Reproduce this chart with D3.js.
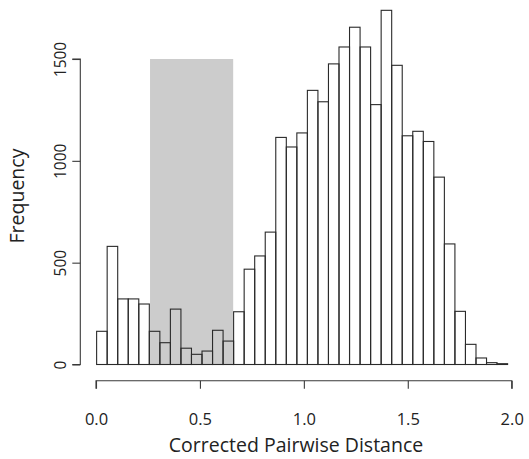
<!DOCTYPE html>
<html>
<head>
<meta charset="utf-8">
<script src="https://cdn.jsdelivr.net/npm/d3@7"></script>
<style>
  body { margin: 0; background: #fff; }
  text { font-family: "Open Sans", Lato, sans-serif; fill: #222; }
</style>
</head>
<body>
<div id="my_dataviz"></div>
<script>
// histogram counts, one per bin
var counts = [163, 580, 322, 322, 297, 163, 107, 272, 80, 50, 66, 168, 115,
              259, 468, 533, 650, 1115, 1068, 1137, 1346, 1290, 1476, 1559,
              1656, 1559, 1276, 1739, 1469, 1123, 1145, 1095, 920, 592, 261,
              99, 32, 9, 4];
var binStart = 0.003,
    binWidth = 0.0507;

// shaded window
var shadeRange = [0.26, 0.66],
    shadeTop = 1500;

// tick labels
var xTicks = [0, 0.5, 1, 1.5, 2];
var yTicks = [0, 500, 1000, 1500];

var width = 529, height = 459;

var svg = d3.select("#my_dataviz")
  .append("svg")
    .attr("width", width)
    .attr("height", height);

var x = d3.scaleLinear()
  .domain([0, 2])
  .range([96, 511.7]);

var y = d3.scaleLinear()
  .domain([0, 1500])
  .range([364.5, 59]);

// grey band behind the bars
svg.append("rect")
  .attr("x", x(shadeRange[0]))
  .attr("y", y(shadeTop))
  .attr("width", x(shadeRange[1]) - x(shadeRange[0]))
  .attr("height", y(0) - y(shadeTop))
  .style("fill", "#cccccc");

// bars, outline only
svg.append("g")
  .selectAll("rect")
  .data(counts)
  .enter()
  .append("rect")
    .attr("x", function(d, i) { return x(binStart + i * binWidth); })
    .attr("y", function(d) { return y(d); })
    .attr("width", function(d, i) { return x(binStart + (i + 1) * binWidth) - x(binStart + i * binWidth); })
    .attr("height", function(d) { return y(0) - y(d); })
    .style("fill", "none")
    .style("stroke", "#2a2a2a")
    .style("stroke-width", 1.1);

// X axis (R style, detached below the bars)
var xAxis = svg.append("g")
  .attr("transform", "translate(0,380.7)")
  .call(d3.axisBottom(x).tickValues(xTicks).tickFormat(d3.format(".1f")).tickSize(8));
xAxis.select(".domain").attr("d", "M" + x(0) + ",8V0H" + x(2) + "V8");
xAxis.selectAll("line, path").style("stroke", "#3a3a3a").style("stroke-width", 1.1);
xAxis.selectAll("text")
  .attr("y", 44).attr("dy", null)
  .style("font-size", "16.5px")
  .style("font-family", "'Open Sans', sans-serif")
  .style("fill", "#222");

svg.append("text")
  .attr("x", 296)
  .attr("y", 452)
  .style("text-anchor", "middle")
  .style("font-size", "19.5px")
  .text("Corrected Pairwise Distance");

// Y axis
var yAxis = svg.append("g")
  .attr("transform", "translate(80.3,0)")
  .call(d3.axisLeft(y).tickValues(yTicks).tickFormat(d3.format("d")).tickSize(8));
yAxis.select(".domain").attr("d", "M-8," + y(0) + "H0V" + y(1500) + "H-8");
yAxis.selectAll("line, path").style("stroke", "#3a3a3a").style("stroke-width", 1.1);
yAxis.selectAll("text")
  .attr("x", null).attr("y", null).attr("dy", null)
  .attr("transform", "translate(-14,0) rotate(-90)")
  .style("text-anchor", "middle")
  .style("font-size", "15.5px")
  .style("font-family", "'Open Sans', sans-serif")
  .style("fill", "#222");

svg.append("text")
  .attr("transform", "translate(24,196) rotate(-90)")
  .style("text-anchor", "middle")
  .style("font-size", "19.5px")
  .text("Frequency");
</script>
</body>
</html>
